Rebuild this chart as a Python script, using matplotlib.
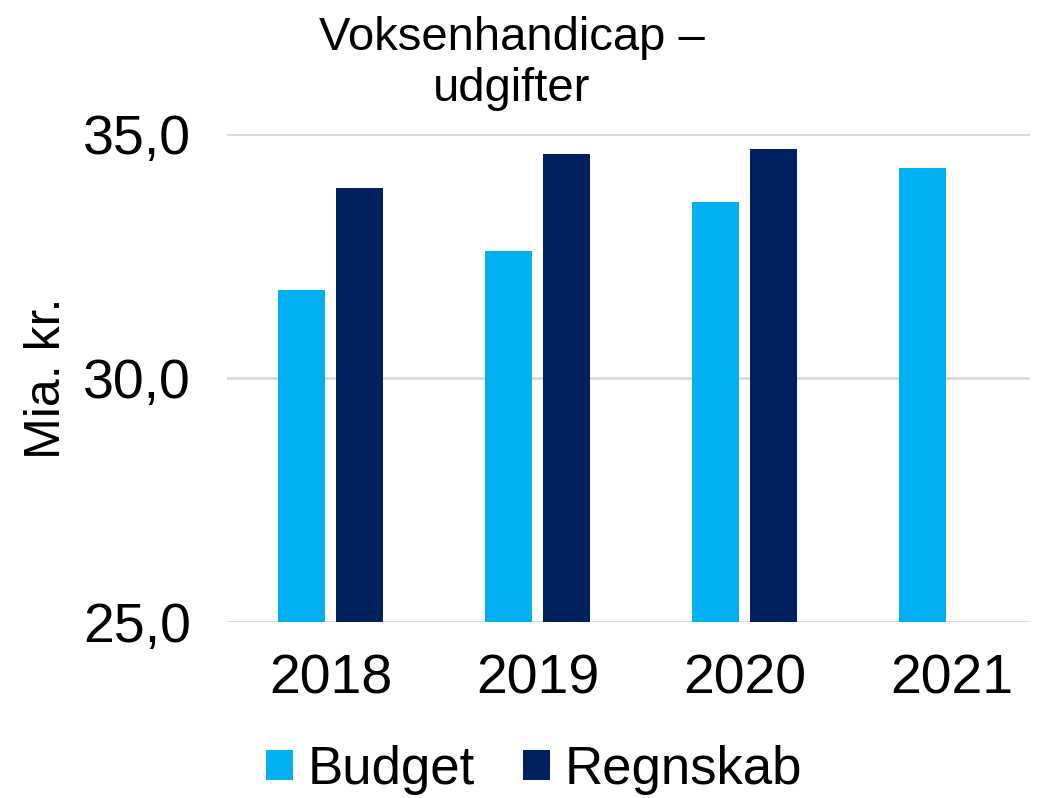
import matplotlib

matplotlib.use("Agg")
import matplotlib.pyplot as plt
import numpy as np

years = ["2018", "2019", "2020", "2021"]
budget = [31.8, 32.6, 33.6, 34.3]
regnskab = [33.9, 34.6, 34.7, None]
yticks = [25.0, 30.0, 35.0]

_BUDGET, _REGN, _GRID = "#00B0F0", "#002060", "#D9D9D9"

plt.rcParams["font.family"] = ["Liberation Sans", "DejaVu Sans"]

fig = plt.figure(figsize=(10.46, 7.98), dpi=100)
ax = fig.add_axes([0.217, 0.2206, 0.768, 0.6115])

x = np.arange(len(years))
w = 0.227
ax.bar(x - 0.142, budget, width=w, color=_BUDGET, label="Budget", zorder=3)
# 2021 has no regnskab yet
rx = [xi for xi, v in zip(x, regnskab) if v is not None]
rv = [v for v in regnskab if v is not None]
ax.bar(np.array(rx) + 0.142, rv, width=w, color=_REGN, label="Regnskab", zorder=3)

ax.set_ylim(25, 35)
ax.set_xlim(-0.5, 3.38)
ax.set_yticks(yticks)
ax.set_yticklabels([f"{v:.1f}".replace(".", ",") for v in yticks])
ax.set_xticks(x)
ax.set_xticklabels(years)
ax.tick_params(axis="both", length=0, labelsize=40)
ax.tick_params(axis="x", pad=23)
ax.tick_params(axis="y", pad=26)
ax.grid(axis="y", color=_GRID, lw=2, zorder=0)
for s in ax.spines.values():
    s.set_visible(False)

ax.set_ylabel("Mia. kr.", fontsize=36)
ax.yaxis.set_label_coords(-0.195, 0.5)

fig.text(512 / 1046, 1 - 16 / 798, "Voksenhandicap –\nudgifter", ha="center", va="top",
         fontsize=34, linespacing=1.2)

fig.legend(loc="center", bbox_to_anchor=(534 / 1046, 1 - 770 / 798), ncol=2, frameon=False,
           fontsize=38, handlelength=0.51, handleheight=0.51, handletextpad=0.28,
           columnspacing=0.9)

fig.savefig("out.png", dpi=100)
